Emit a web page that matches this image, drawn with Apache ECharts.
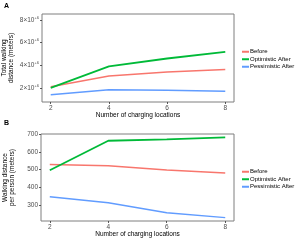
<!DOCTYPE html>
<html><head><meta charset="utf-8">
<script src="https://cdn.jsdelivr.net/npm/echarts@6/dist/echarts.min.js"></script>
<style>html,body{margin:0;padding:0;background:#fff}#c{width:300px;height:240px}</style>
</head><body><div id="c"></div>
<script>
const xLocations = [2, 4, 6, 8];
const xTicks = [2, 4, 6, 8];
const seriesNames = ['Before', 'Optimistic After', 'Pessimistic After'];
// Panel A: total walking distance (meters)
const totalBefore = [2.1e6, 3.05e6, 3.4e6, 3.64e6];
const totalOptimistic = [2.0e6, 3.9e6, 4.6e6, 5.18e6];
const totalPessimistic = [1.4e6, 1.84e6, 1.8e6, 1.72e6];
const totalTicks = [2e6, 4e6, 6e6, 8e6];
// Panel B: walking distance per person (meters)
const perBefore = [528, 521, 497, 481];
const perOptimistic = [496, 662, 670, 681];
const perPessimistic = [347, 313, 257, 229];
const perTicks = [300, 400, 500, 600, 700];

const colors = ['#F8766D', '#00BA38', '#619CFF'];
const font = 'Liberation Sans, Arial, sans-serif';
const chart = echarts.init(document.getElementById('c'), null, {renderer: 'canvas'});

function xAxis(gi) {
  return {
    type: 'value', gridIndex: gi, min: 1.7, max: 8.3,
    name: 'Number of charging locations', nameLocation: 'middle', nameGap: 10, nameMoveOverlap: false,
    nameTextStyle: {fontSize: 6.5, color: '#000', fontFamily: font},
    axisLine: {show: false}, splitLine: {show: false},
    axisTick: {show: true, length: 2, lineStyle: {color: '#333', width: 0.8}, customValues: xTicks},
    axisLabel: {fontSize: 6.5, color: '#4d4d4d', margin: 3, fontFamily: font, customValues: xTicks}
  };
}
function zip(xs, ys) { return xs.map((x, i) => [x, ys[i]]); }
function line(name, data, gi, ci, w) {
  return {type: 'line', name: name, xAxisIndex: gi, yAxisIndex: gi, data: zip(xLocations, data),
    showSymbol: false, symbol: 'none', lineStyle: {color: colors[ci], width: w}, itemStyle: {color: colors[ci]},
    z: 2};
}
function legend(top) {
  return {orient: 'vertical', left: 242, top: top, itemWidth: 7, itemHeight: 2, itemGap: 0,
    icon: 'rect', data: seriesNames, selectedMode: false, padding: 0,
    textStyle: {fontSize: 6, lineHeight: 7.5, color: '#000', fontFamily: font, padding: [0, 0, 0, -4]}};
}

chart.setOption({
  animation: false,
  color: colors,
  grid: [
    {left: 42, top: 14, width: 192, height: 88, show: true, borderColor: '#7f7f7f', borderWidth: 1,
      containLabel: false, outerBoundsMode: 'none'},
    {left: 41, top: 134, width: 193, height: 87, show: true, borderColor: '#7f7f7f', borderWidth: 1,
      containLabel: false, outerBoundsMode: 'none'}
  ],
  legend: [legend(48), legend(168)],
  xAxis: [xAxis(0), xAxis(1)],
  yAxis: [
    {type: 'value', gridIndex: 0, min: 0.76e6, max: 8.53e6,
      name: 'Total walking\ndistance (meters)', nameLocation: 'middle', nameGap: 27, nameRotate: 90,
      nameMoveOverlap: false,
      nameTextStyle: {fontSize: 6.5, color: '#000', fontFamily: font, lineHeight: 7},
      axisLine: {show: false}, splitLine: {show: false},
      axisTick: {show: true, length: 2, lineStyle: {color: '#333', width: 0.8}, customValues: totalTicks},
      axisLabel: {margin: 3, fontFamily: font, customValues: totalTicks,
        formatter: v => '{a|' + Math.round(v / 1e6) + '×10}{b|+6}',
        rich: {a: {fontSize: 6.5, color: '#4d4d4d', fontFamily: font},
               b: {fontSize: 4, color: '#4d4d4d', fontFamily: font, verticalAlign: 'top', padding: [0, 0, 5, 0]}}}},
    {type: 'value', gridIndex: 1, min: 210, max: 700,
      name: 'Walking distance\nper person (meters)', nameLocation: 'middle', nameGap: 25, nameRotate: 90,
      nameMoveOverlap: false,
      nameTextStyle: {fontSize: 6.5, color: '#000', fontFamily: font, lineHeight: 7},
      axisLine: {show: false}, splitLine: {show: false},
      axisTick: {show: true, length: 2, lineStyle: {color: '#333', width: 0.8}, customValues: perTicks},
      axisLabel: {fontSize: 6.5, color: '#4d4d4d', margin: 3, fontFamily: font, customValues: perTicks}}
  ],
  graphic: [
    {type: 'text', left: 4, top: 3, style: {text: 'A', font: 'bold 7px ' + font, fill: '#000'}},
    {type: 'text', left: 4, top: 120, style: {text: 'B', font: 'bold 7px ' + font, fill: '#000'}}
  ],
  series: [
    line(seriesNames[0], totalBefore, 0, 0, 1.5),
    line(seriesNames[1], totalOptimistic, 0, 1, 1.8),
    line(seriesNames[2], totalPessimistic, 0, 2, 1.5),
    line(seriesNames[0], perBefore, 1, 0, 1.5),
    line(seriesNames[1], perOptimistic, 1, 1, 1.8),
    line(seriesNames[2], perPessimistic, 1, 2, 1.5)
  ]
});
</script></body></html>
